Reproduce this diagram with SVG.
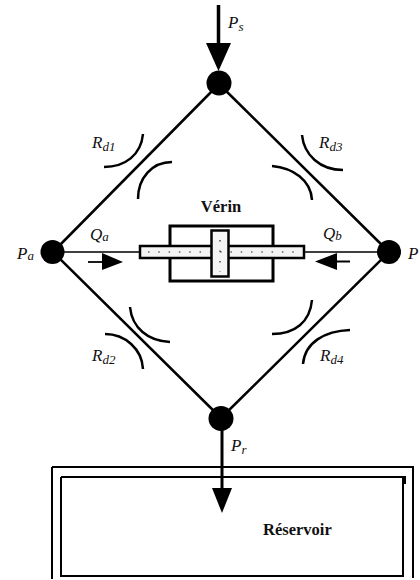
<svg xmlns="http://www.w3.org/2000/svg" width="420" height="580" viewBox="0 0 420 580">
<style>
.l{font-family:"Liberation Serif",serif;font-style:italic;font-size:17px;fill:#111}
.s{font-size:13px}
.b{font-family:"Liberation Serif",serif;font-weight:bold;font-size:16.500px;fill:#111}
.w{fill:none;stroke:#000;stroke-width:2.5}
.a{fill:none;stroke:#000;stroke-width:2.5;stroke-linecap:butt}
.d{fill:#000}
.r{fill:#f4f4f4;stroke:#000;stroke-width:2.5}
</style>
<rect width="420" height="580" fill="#fff"/>
<g id="connectors">
<path class="w" d="M219 84L53 252M219 84L389 252M53 252L221 418M389 252L221 418"/>
<path d="M53 252H140M304 252H389" fill="none" stroke="#000" stroke-width="1.6"/>
<path d="M218.500 5V45" fill="none" stroke="#000" stroke-width="3.500"/>
<polygon class="d" points="206,43 231,43 218.500,71"/>
<path d="M222 428V490" fill="none" stroke="#000" stroke-width="3"/>
<polygon class="d" points="212,488 232,488 222,513"/>
<path d="M88 262H104" fill="none" stroke="#000" stroke-width="1.8"/>
<polygon class="d" points="102,253 123,262 102,270"/>
<path d="M335 261.500H350" fill="none" stroke="#000" stroke-width="2"/>
<polygon class="d" points="315,261.500 337,253 337,270"/>
</g>
<g id="node-top"><circle class="d" cx="219" cy="83" r="12.500"/></g>
<g id="node-left"><circle class="d" cx="52.500" cy="252" r="12"/></g>
<g id="node-right"><circle class="d" cx="389" cy="252" r="12"/></g>
<g id="node-bottom"><circle class="d" cx="221" cy="418.500" r="12.500"/></g>
<g id="restrictors">
<path class="a" d="M143 134C141 155 125 167 104 167"/>
<path class="a" d="M172 162C152 162 138 178 138 199"/>
<path class="a" d="M302 135C304 155 320 170 343 170"/>
<path class="a" d="M272 166C293 168 311 180 312 200"/>
<path class="a" d="M130 307C132 328 148 341 170 342"/>
<path class="a" d="M105 334C125 334 142 349 143 369"/>
<path class="a" d="M312 300C310 322 295 334 272 334"/>
<path class="a" d="M350 330C325 331 305 342 303 364"/>
</g>
<g id="verin">
<rect x="170" y="226" width="103" height="55" fill="#fff" stroke="#000" stroke-width="3"/>
<rect class="r" x="140" y="246" width="164" height="12"/>
<rect class="r" x="211.500" y="230.500" width="17" height="46"/>
<path d="M148 252H296" fill="none" stroke="#222" stroke-width="1.2" stroke-dasharray="1.500 8.800"/>
<path d="M220 240V272" fill="none" stroke="#222" stroke-width="1.2" stroke-dasharray="1.500 9"/>
<text class="b" x="221" y="212" text-anchor="middle">Vérin</text>
</g>
<g id="reservoir">
<path d="M52 467H413V578M52 467V579" fill="none" stroke="#000" stroke-width="2"/>
<path d="M61 477H405V484M403 477V576H61V477" fill="none" stroke="#000" stroke-width="2"/>
<text class="b" x="263" y="535">Réservoir</text>
</g>
<g id="labels">
<text class="l" x="92" y="148">R<tspan class="s" dy="3">d1</tspan></text>
<text class="l" x="319" y="148">R<tspan class="s" dy="3">d3</tspan></text>
<text class="l" x="92" y="361">R<tspan class="s" dy="3">d2</tspan></text>
<text class="l" x="320" y="361">R<tspan class="s" dy="3">d4</tspan></text>
<text class="l" x="228" y="28">P<tspan class="s" dy="3">s</tspan></text>
<text class="l" x="17" y="259">P<tspan class="s" dy="1" font-size="15">a</tspan></text>
<text class="l" x="408" y="259">P</text>
<text class="l" x="90" y="240">Q<tspan class="s" dy="1" font-size="15">a</tspan></text>
<text class="l" x="323" y="239">Q<tspan class="s" dy="1">b</tspan></text>
<text class="l" x="231" y="451">P<tspan class="s" dy="3">r</tspan></text>
</g>
</svg>
